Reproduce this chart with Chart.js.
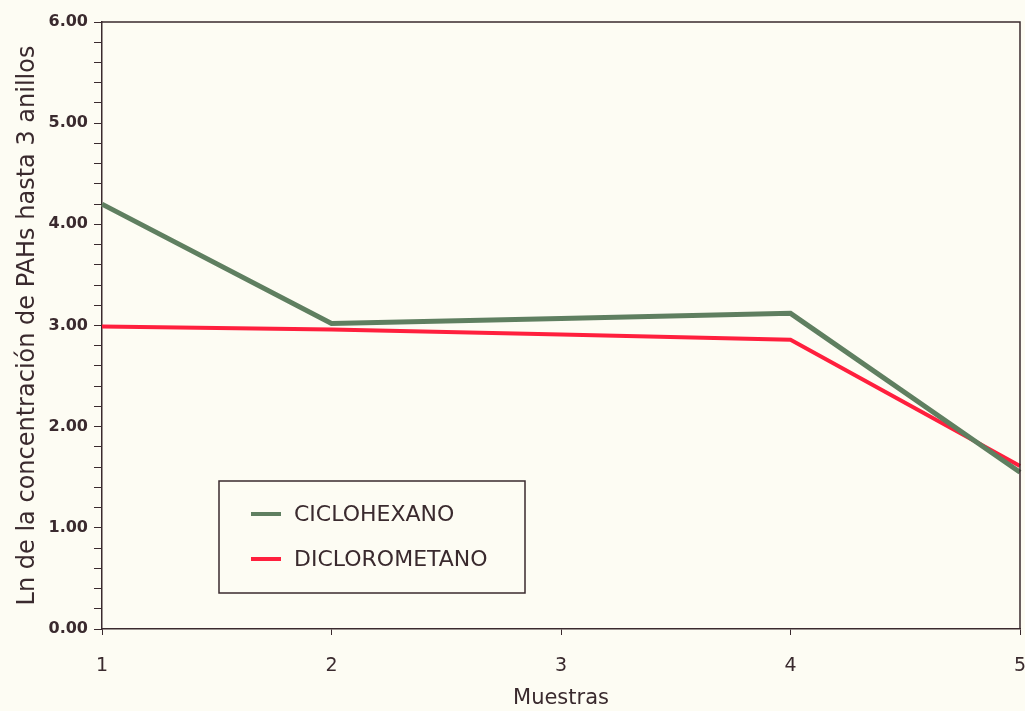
<!DOCTYPE html>
<html>
<head>
<meta charset="utf-8">
<script src="https://cdn.jsdelivr.net/npm/chart.js@4.4.0/dist/chart.umd.min.js"></script>
<style>
  html, body { margin: 0; padding: 0; background: #fdfcf3; }
  #wrap { width: 1025px; height: 711px; }
</style>
</head>
<body>
<div id="wrap"><canvas id="chart"></canvas></div>
<script>
// data
const muestras = ["1", "2", "3", "4", "5"];
const ciclohexano = [4.20, 3.02, 3.07, 3.12, 1.55];
const diclorometano = [2.99, 2.96, 2.91, 2.86, 1.61];
const seriesNames = ["CICLOHEXANO", "DICLOROMETANO"];
const seriesColors = ["#5f7f60", "#ff1f3d"];

const inkColor = "#3a2a2e";
const fontFamily = "'DejaVu Sans', sans-serif";

// cream paper background
const paper = {
    id: "paper",
    beforeDraw(chart) {
        const c = chart.ctx;
        c.save();
        c.fillStyle = "#fdfcf3";
        c.fillRect(0, 0, chart.width, chart.height);
        c.restore();
    }
};

// top and right frame of the plot
const frame = {
    id: "frame",
    afterDraw(chart) {
        const a = chart.chartArea;
        const c = chart.ctx;
        c.save();
        c.strokeStyle = inkColor;
        c.lineWidth = 1.5;
        c.beginPath();
        c.moveTo(a.left, a.top);
        c.lineTo(a.right, a.top);
        c.lineTo(a.right, a.bottom);
        c.stroke();
        c.restore();
    }
};

// boxed legend inside the plot, lower left
const boxLegend = {
    id: "boxLegend",
    afterDraw(chart) {
        const c = chart.ctx;
        c.save();
        c.strokeStyle = inkColor;
        c.lineWidth = 1.5;
        c.strokeRect(219, 481, 306, 112);
        c.font = "22px " + fontFamily;
        c.textBaseline = "middle";
        c.fillStyle = inkColor;
        seriesNames.forEach((name, i) => {
            const y = 514 + i * 45;
            c.strokeStyle = seriesColors[i];
            c.lineWidth = 4;
            c.beginPath();
            c.moveTo(251, y);
            c.lineTo(281, y);
            c.stroke();
            c.fillText(name, 294, y + 1);
        });
        c.restore();
    }
};

new Chart(document.getElementById("chart"), {
    type: "line",
    data: {
        labels: muestras,
        datasets: [
            {
                label: seriesNames[0],
                data: ciclohexano,
                borderColor: seriesColors[0],
                borderWidth: 5,
                pointRadius: 0,
                tension: 0,
            },
            {
                label: seriesNames[1],
                data: diclorometano,
                borderColor: seriesColors[1],
                borderWidth: 4,
                pointRadius: 0,
                tension: 0,
            },
        ],
    },
    options: {
        responsive: true,
        maintainAspectRatio: false,
        animation: false,
        layout: {
            padding: { top: 22, right: 5, bottom: 0, left: 0 }
        },
        plugins: {
            legend: { display: false },
            tooltip: { enabled: false },
        },
        scales: {
            x: {
                offset: false,
                grid: {
                    drawOnChartArea: false,
                    tickLength: 6,
                    color: inkColor,
                },
                border: { color: inkColor, width: 1.5 },
                ticks: {
                    color: inkColor,
                    font: { family: fontFamily, size: 19 },
                    padding: 20,
                    maxRotation: 0,
                },
                title: {
                    display: true,
                    text: "Muestras",
                    color: inkColor,
                    font: { family: fontFamily, size: 21 },
                    padding: { top: 0, bottom: 0 },
                },
                afterFit(scale) {
                    scale.height = 82;
                    scale.paddingLeft = 0;
                    scale.paddingRight = 0;
                },
            },
            y: {
                min: 0,
                max: 6,
                grid: {
                    drawOnChartArea: false,
                    tickLength: 8,
                    color: inkColor,
                },
                border: { color: inkColor, width: 1.5 },
                ticks: {
                    stepSize: 0.2,
                    autoSkip: false,
                    color: inkColor,
                    font: { family: fontFamily, size: 16, weight: "bold" },
                    padding: 6,
                    callback: (v) => Math.abs(v - Math.round(v)) < 1e-6 ? v.toFixed(2) : "",
                },
                title: {
                    display: true,
                    text: "Ln de la concentración de PAHs hasta 3 anillos",
                    color: inkColor,
                    font: { family: fontFamily, size: 24 },
                    padding: { top: 13, bottom: 0 },
                },
                afterFit(scale) {
                    scale.width = 102;
                    scale.paddingTop = 0;
                    scale.paddingBottom = 0;
                },
            },
        },
    },
    plugins: [paper, frame, boxLegend],
});
</script>
</body>
</html>
